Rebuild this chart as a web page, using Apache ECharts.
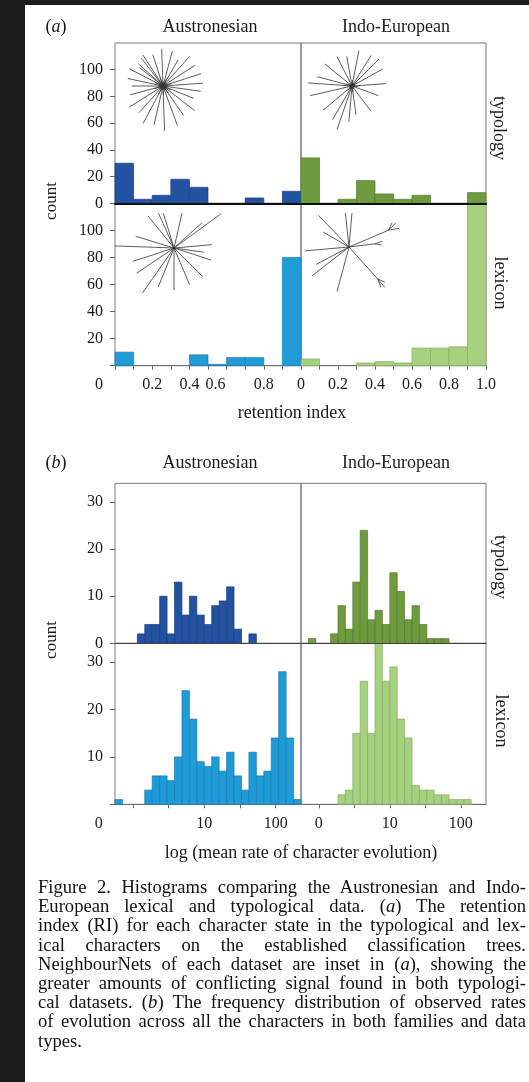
<!DOCTYPE html>
<html>
<head>
<meta charset="utf-8">
<title>Figure 2</title>
<script src="https://cdn.jsdelivr.net/npm/echarts@6/dist/echarts.min.js"></script>
<style>
    html, body {
        margin: 0;
        padding: 0;
        background: #1c1c1c;
        width: 529px;
        height: 1082px;
        overflow: hidden;
    }
    .sheet {
        position: absolute;
        left: 25px;
        top: 5px;
        right: 0;
        bottom: 0;
        background: #fff;
    }
    #chart {
        position: absolute;
        left: 0;
        top: 0;
        width: 529px;
        height: 1082px;
    }
    .caption {
        position: absolute;
        left: 38px;
        top: 877px;
        width: 488px;
        font-family: "Liberation Serif", "DejaVu Serif", serif;
        font-size: 18.6px;
        line-height: 19.2px;
        color: #111;
    }
    .caption div {
        white-space: nowrap;
        text-align: justify;
        text-align-last: justify;
    }
    .caption div.last {
        text-align-last: left;
    }
</style>
</head>
<body>
<div class="sheet"></div>
<div id="chart"></div>
<div class="caption">
    <div>Figure 2. Histograms comparing the Austronesian and Indo-</div>
    <div>European lexical and typological data. (<i>a</i>) The retention</div>
    <div>index (RI) for each character state in the typological and lex-</div>
    <div>ical characters on the established classification trees.</div>
    <div>NeighbourNets of each dataset are inset in (<i>a</i>), showing the</div>
    <div>greater amounts of conflicting signal found in both typologi-</div>
    <div>cal datasets. (<i>b</i>) The frequency distribution of observed rates</div>
    <div>of evolution across all the characters in both families and data</div>
    <div class="last">types.</div>
</div>

<script>
// (a) retention index, 10 bins of 0.1
const riEdges = [0, 0.1, 0.2, 0.3, 0.4, 0.5, 0.6, 0.7, 0.8, 0.9, 1.0];
const riAnTypology = [30, 3, 6, 18, 12, 0, 0, 4, 0, 9];
const riIeTypology = [34, 0, 3, 17, 7, 3, 6, 0, 0, 8];
const riAnLexicon = [10, 0, 0, 0, 8, 1, 6, 6, 0, 80];
const riIeLexicon = [5, 0, 0, 2, 3, 2, 13, 13, 14, 130];
const riTicks = [0, 0.1, 0.2, 0.3, 0.4, 0.5, 0.6, 0.7, 0.8, 0.9, 1];
const riLabelsAn = [0, 0.2, 0.4, 0.6, 0.8];
const riLabelsIe = [0, 0.2, 0.4, 0.6, 0.8, 1];

// (b) log10 mean rate, 25 bins across the panel
const rateLogMin = -0.25;
const rateLogMax = 2.355;
const rateAnTypology = [0, 0, 0, 2, 4, 4, 10, 2, 13, 6, 10, 6, 4, 8, 9, 12, 3, 0, 2, 0, 0, 0, 0, 0, 0];
const rateIeTypology = [0, 1, 0, 0, 2, 8, 3, 13, 24, 5, 7, 4, 15, 11, 5, 8, 4, 1, 1, 1, 0, 0, 0, 0, 0];
const rateAnLexicon = [1, 0, 0, 0, 3, 6, 6, 5, 10, 24, 18, 9, 8, 10, 7, 11, 6, 3, 11, 6, 7, 14, 28, 14, 1];
const rateIeLexicon = [0, 0, 0, 0, 0, 2, 3, 15, 26, 15, 36, 26, 29, 18, 14, 4, 3, 3, 2, 2, 1, 1, 1, 0, 0];
const rateTicks = [0, 0.5, 1, 1.5, 2];
const rateLabels = [0, 1, 2];
const rateLabelText = { 0: "0", 1: "10", 2: "100" };

// count axes
const riMax = 120;
const riTypologyTicks = [0, 20, 40, 60, 80, 100];
const riLexiconLabels = [20, 40, 60, 80, 100];
const rateMax = 34;
const rateTypologyTicks = [0, 10, 20, 30];
const rateLexiconLabels = [10, 20, 30];

const FONT = '"Liberation Serif", "DejaVu Serif", serif';
const TEXT = "#1a1a1a";
const TICK = "#6a6a6a";
const COLORS = {
    anTyp: ["#2352a0", "#1b3f80"],
    anLex: ["#1f9bd7", "#187bb0"],
    ieTyp: ["#6e9b3e", "#557b2e"],
    ieLex: ["#a6d17f", "#86ad62"],
};

// grid rects: left, top, width, height
const GRIDS = [
    [115, 43, 186, 160.3],
    [301, 43, 185, 160.3],
    [115, 203.3, 186, 162.4],
    [301, 203.3, 185, 162.4],
    [115, 483.3, 186, 160],
    [301, 483.3, 185, 160],
    [115, 643.3, 186, 161],
    [301, 643.3, 185, 161],
];

function histSeries(idx, edgeAt, counts, colors) {
    let data = [];
    counts.forEach((c, i) => {
        if (c > 0) data.push([edgeAt(i), edgeAt(i + 1), c]);
    });
    return {
        type: "custom",
        xAxisIndex: idx,
        yAxisIndex: idx,
        silent: true,
        encode: { x: [0, 1], y: 2 },
        data: data,
        renderItem(params, api) {
            const p0 = api.coord([api.value(0), api.value(2)]);
            const p1 = api.coord([api.value(1), 0]);
            const cs = params.coordSys;
            const shape = echarts.graphic.clipRectByRect(
                { x: p0[0], y: p0[1], width: p1[0] - p0[0], height: p1[1] - p0[1] },
                { x: cs.x, y: cs.y, width: cs.width, height: cs.height }
            );
            if (!shape) return;
            return {
                type: "rect",
                shape: shape,
                style: { fill: colors[0], stroke: colors[1], lineWidth: 0.7 },
            };
        },
    };
}

const riEdge = (i) => riEdges[i];
const rateEdge = (i) => rateLogMin + (i * (rateLogMax - rateLogMin)) / rateAnLexicon.length;

// nudges (px, leftwards) for a few labels that sit off their ticks in the figure
const nudge = (px) => ({ padding: [0, px * 2, 0, 0] });

function yAxis(idx, max, ticks, labels) {
    if (!ticks) {
        return { gridIndex: idx, type: "value", min: 0, max: max, show: false };
    }
    return {
        gridIndex: idx,
        type: "value",
        min: 0,
        max: max,
        axisLine: { show: false, onZero: false },
        axisTick: { show: true, customValues: ticks, length: 5, lineStyle: { color: TICK } },
        axisLabel: { customValues: labels, fontFamily: FONT, fontSize: 16, color: TEXT, margin: 12 },
        splitLine: { show: false },
    };
}

function typologyX(idx, min, max, color, width) {
    return {
        gridIndex: idx,
        type: "value",
        min: min,
        max: max,
        z: 10,
        axisLine: { show: true, onZero: false, lineStyle: { color: color, width: width } },
        axisTick: { show: false },
        axisLabel: { show: false },
        splitLine: { show: false },
    };
}

function lexiconX(idx, min, max, ticks, labels, formatter, rich) {
    return {
        gridIndex: idx,
        type: "value",
        min: min,
        max: max,
        axisLine: { show: true, onZero: false, lineStyle: { color: "#707070" } },
        axisTick: { show: true, customValues: ticks, length: 4, lineStyle: { color: TICK } },
        axisLabel: {
            customValues: labels,
            formatter: formatter,
            rich: rich,
            fontFamily: FONT,
            fontSize: 16,
            color: TEXT,
            margin: 11,
        },
        splitLine: { show: false },
    };
}

const riFmtAn = (v) => {
    if (v === 0) return "{l16|0}";
    if (v === 0.6) return "{l11|0.6}";
    return String(v);
};
const riFmtIe = (v) => (v === 1 ? "1.0" : String(v));
const rateFmtAn = (v) => (v === 0 ? "{l34|0}" : rateLabelText[v]);
const rateFmtIe = (v) => rateLabelText[v];

// NeighbourNet insets (decoration): centre, back-offset through centre, spokes [angle deg, length, forks]
const INSETS = [
    {
        cx: 163, cy: 86, back: 9,
        spokes: [[-92, 37], [-108, 33], [-75, 36], [-60, 30], [-48, 40], [-33, 38], [-18, 40], [-4, 40],
            [8, 38], [22, 33], [38, 40], [55, 36], [70, 42], [88, 45], [103, 40], [118, 42], [132, 36],
            [148, 40], [165, 34], [180, 31], [192, 36], [207, 38], [222, 33], [237, 37], [-128, 35], [-142, 30]],
    },
    {
        cx: 352, cy: 86, back: 6,
        spokes: [[184, 44], [-141, 35], [-117, 33], [-100, 30], [-79, 36], [-58, 36], [-45, 38], [-29, 35],
            [-4, 34], [20, 28], [53, 31], [82, 29], [95, 36], [109, 46], [120, 39], [140, 38], [167, 43], [-165, 36]],
    },
    {
        cx: 174, cy: 248, back: 0,
        spokes: [[182, 59], [-5, 38], [-114, 38], [-107, 36], [-77, 36], [-42, 38], [-36, 58], [-163, 40],
            [-129, 41], [18, 39], [90, 42], [125, 55], [112, 42], [67, 40], [45, 40], [162, 43], [146, 45], [8, 30]],
    },
    {
        cx: 349, cy: 247, back: 0,
        spokes: [[175, 44], [-134, 44], [-96, 34], [-85, 34],
            [-23, 43, [[-45, 10], [-10, 11], [-65, 8]]],
            [48, 43, [[25, 8], [70, 9], [50, 11]]],
            [-7, 26, [[-20, 8], [10, 7]]],
            [105, 46], [142, 47], [152, 37], [-150, 30]],
    },
];

function insetGraphics() {
    const els = [];
    const line = (x1, y1, x2, y2) => ({
        type: "line",
        silent: true,
        z: 20,
        shape: { x1, y1, x2, y2 },
        style: { stroke: "#333", lineWidth: 0.8 },
    });
    INSETS.forEach((ins) => {
        ins.spokes.forEach(([a, len, forks], k) => {
            const t = (a * Math.PI) / 180;
            const back = ins.back * (k % 3 === 0 ? 1 : 0.5);
            const sx = ins.cx - Math.cos(t) * back;
            const sy = ins.cy - Math.sin(t) * back;
            const ex = ins.cx + Math.cos(t) * len;
            const ey = ins.cy + Math.sin(t) * len;
            els.push(line(sx, sy, ex, ey));
            (forks || []).forEach(([fa, fl]) => {
                const ft = (fa * Math.PI) / 180;
                els.push(line(ex, ey, ex + Math.cos(ft) * fl, ey + Math.sin(ft) * fl));
            });
        });
    });
    return els;
}

function label(text, x, y, opts) {
    opts = opts || {};
    return {
        type: "text",
        silent: true,
        x: x,
        y: y,
        rotation: opts.rotation || 0,
        z: 30,
        style: {
            text: text,
            fontFamily: FONT,
            fontSize: opts.size || 18,
            fill: TEXT,
            align: "center",
            verticalAlign: "middle",
            rich: { i: { fontStyle: "italic", fontFamily: FONT, fontSize: opts.size || 18, fill: TEXT } },
        },
    };
}

const titles = [
    label("({i|a})", 56, 27),
    label("Austronesian", 210, 27),
    label("Indo-European", 396, 27),
    label("typology", 499, 128, { rotation: -Math.PI / 2 }),
    label("lexicon", 500, 283, { rotation: -Math.PI / 2 }),
    label("count", 52, 201, { rotation: Math.PI / 2, size: 17 }),
    label("retention index", 292, 413),
    label("({i|b})", 56, 463),
    label("Austronesian", 210, 463),
    label("Indo-European", 396, 463),
    label("typology", 500, 567, { rotation: -Math.PI / 2 }),
    label("lexicon", 501, 721, { rotation: -Math.PI / 2 }),
    label("count", 52, 640, { rotation: Math.PI / 2, size: 17 }),
    label("log (mean rate of character evolution)", 301, 853),
];

const myChart = echarts.init(document.getElementById("chart"), null, { renderer: "canvas" });

const option = {
    animation: false,
    backgroundColor: "transparent",
    textStyle: { fontFamily: FONT },
    grid: GRIDS.map((g) => ({
        left: g[0],
        top: g[1],
        width: g[2],
        height: g[3],
        show: true,
        borderColor: "#7a7a7a",
        borderWidth: 1,
        backgroundColor: "transparent",
    })),
    xAxis: [
        typologyX(0, 0, 1, "#111", 2),
        typologyX(1, 0, 1, "#111", 2),
        lexiconX(2, 0, 1, riTicks, riLabelsAn, riFmtAn, { l16: nudge(16), l11: nudge(11) }),
        lexiconX(3, 0, 1, riTicks, riLabelsIe, riFmtIe, {}),
        typologyX(4, rateLogMin, rateLogMax, "#444", 1.2),
        typologyX(5, rateLogMin, rateLogMax, "#444", 1.2),
        lexiconX(6, rateLogMin, rateLogMax, rateTicks, rateLabels, rateFmtAn, { l34: nudge(34) }),
        lexiconX(7, rateLogMin, rateLogMax, rateTicks, rateLabels, rateFmtIe, {}),
    ],
    yAxis: [
        yAxis(0, riMax, riTypologyTicks, riTypologyTicks),
        yAxis(1, riMax),
        yAxis(2, riMax, riTypologyTicks, riLexiconLabels),
        yAxis(3, riMax),
        yAxis(4, rateMax, rateTypologyTicks, rateTypologyTicks),
        yAxis(5, rateMax),
        yAxis(6, rateMax, rateTypologyTicks, rateLexiconLabels),
        yAxis(7, rateMax),
    ],
    series: [
        histSeries(0, riEdge, riAnTypology, COLORS.anTyp),
        histSeries(1, riEdge, riIeTypology, COLORS.ieTyp),
        histSeries(2, riEdge, riAnLexicon, COLORS.anLex),
        histSeries(3, riEdge, riIeLexicon, COLORS.ieLex),
        histSeries(4, rateEdge, rateAnTypology, COLORS.anTyp),
        histSeries(5, rateEdge, rateIeTypology, COLORS.ieTyp),
        histSeries(6, rateEdge, rateAnLexicon, COLORS.anLex),
        histSeries(7, rateEdge, rateIeLexicon, COLORS.ieLex),
    ],
    graphic: titles.concat(insetGraphics()),
};

myChart.setOption(option);
window.addEventListener("resize", () => {
    myChart.resize();
});
</script>
</body>
</html>
